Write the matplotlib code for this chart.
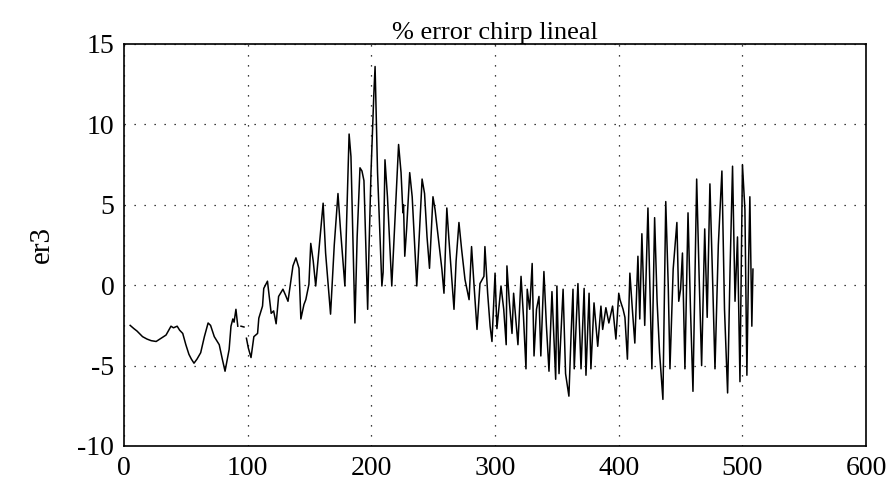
import numpy as np
import matplotlib.pyplot as plt

# muestras (nan = hueco en la traza)
nan = np.nan
t = [5, 8, 10.5, 15, 18.6, 22, 26, 30, 34, 38, 40, 43, 45, 47.5, 50, 52.5,
     54.5, 56.6, 59, 62, 65, 68, 70, 73, 77, 79.5, 81.7, 83.5, 85, 86.5, 88, 89, 90.5, 92,
     93, 94.6, 97, 98, 99, 100.5,
     102.7, 105, 108, 109, 112, 113, 116, 119, 121, 123, 125, 128.5, 130.5, 132.6, 136.6, 139,
     141.5, 143, 145.5, 147, 149.5, 151,
     153, 155, 158, 161, 163, 167, 170, 173, 175, 178.6, 180, 182, 183.5, 186.7, 188.5, 190.8,
     192.4, 194, 197, 198, 199.7, 202,
     203, 205, 208.5, 209.5, 211, 213, 216.5, 219, 222, 224, 225.5, 226, 227, 228.5, 231, 233,
     236.7, 239, 241, 243, 245, 247, 249.8,
     251.5, 254, 257, 258.7, 261, 262.7, 266.8, 268.5, 270.8, 273, 275.7, 279, 281, 283, 285.4,
     287.8, 291, 291.8, 294, 296, 297.5, 300,
     301.5, 304.8, 307, 309, 309.6, 311.5, 313.7, 315, 318.5, 321, 323, 325, 326, 328, 330,
     331.5, 333.5, 335.5, 337, 339.5, 341.5, 343.6, 346, 349, 350,
     351.7, 355, 357, 359.7, 361.5, 363, 364, 367, 369.5, 372, 373.5, 376, 377.5, 380, 383,
     385.6, 387, 389.6, 392, 395, 397.7, 400,
     401, 403.5, 405, 407, 409, 411, 413, 415.5, 417, 418.7, 421, 423.6, 425, 426.8, 429, 431,
     433, 435.7, 438, 440, 441.4, 444, 447, 448.5, 450, 451.5, 453.5, 456, 458, 460, 463, 465,
     467, 469.5, 471.5, 473.7, 476, 477.8, 480.5, 483.4, 485.5, 488, 490, 492, 494, 496, 498,
     500, 502, 503.6, 505, 506, 507.6, 508.5]
er3 = [-2.5, -2.7, -2.85, -3.2, -3.35, -3.45, -3.5, -3.3, -3.1, -2.55, -2.65, -2.55, -2.8, -3.0, -3.7, -4.3,
       -4.6, -4.85, -4.6, -4.2, -3.2, -2.35, -2.5, -3.2, -3.7, -4.6, -5.35, -4.6, -4.0, -2.55, -2.1, -2.3, -1.5, -2.55,
       nan, -2.55, -2.6, nan, -3.3, -3.9,
       -4.5, -3.2, -3.0, -2.05, -1.3, -0.2, 0.25, -1.75, -1.6, -2.4, -0.7, -0.25, -0.6, -1.0, 1.2, 1.7,
       1.05, -2.1, -1.2, -0.9, 0.05, 2.6,
       1.5, -0.05, 2.5, 5.1, 2.0, -1.8, 2.5, 5.7, 3.5, -0.05, 4.0, 9.4, 8.0, -2.35, 3.0, 7.3,
       7.1, 6.5, -1.5, 2.0, 7.0, 11.9,
       13.6, 7.0, -0.05, 0.8, 7.8, 5.5, -0.05, 4.0, 8.75, 7.0, 4.5, 5.0, 1.8, 3.5, 7.0, 5.5,
       -0.05, 3.5, 6.6, 5.7, 3.0, 1.05, 5.5,
       4.7, 3.0, 1.0, -0.5, 4.8, 2.85, -1.5, 1.5, 3.9, 2.2, 0.35, -0.9, 2.4, 0.0, -2.75,
       0.1, 0.55, 2.4, -0.5, -2.55, -3.5, 0.75,
       -2.7, -0.05, -1.5, -3.7, 1.2, -1.0, -3.0, -0.5, -3.7, 0.55, -2.0, -5.2, -0.25, -1.5, 1.35,
       -4.4, -1.5, -0.7, -4.4, 0.85, -2.5, -5.35, -0.4, -5.85, -0.05,
       -5.5, -0.25, -5.5, -6.9, -3.0, -0.25, -5.2, 0.1, -5.2, -0.2, -5.6, -0.5, -5.2, -1.1, -3.8,
       -1.3, -2.75, -1.4, -2.35, -1.3, -3.35, -0.5,
       -0.9, -1.5, -2.0, -4.6, 0.75, -1.5, -3.6, 1.8, -2.1, 3.2, -2.5, 4.8, 0.5, -5.2, 4.2, -1.0,
       -4.2, -7.1, 5.2, 0.0, -5.2, 1.0, 3.9, -1.0, -0.25, 2.0, -5.2, 4.5, -1.5, -6.6, 6.6, 0.5,
       -5.0, 3.5, -2.0, 6.3, 0.0, -5.2, 2.5, 7.1, -1.5, -6.7, 1.0, 7.4, -1.0, 3.0, -6.0,
       7.5, 4.7, -5.6, 1.5, 5.5, -2.55, 1.0]

xticks = [0, 100, 200, 300, 400, 500, 600]
yticks = [-10, -5, 0, 5, 10, 15]

plt.rcParams['font.family'] = ['Liberation Serif', 'DejaVu Serif']
plt.rcParams['axes.unicode_minus'] = False

fig = plt.figure(figsize=(8.92, 4.92), dpi=100)
ax = fig.add_axes([0.139, 0.0935, 0.832, 0.8171])

ax.plot(t, er3, color='black', lw=1.1)

ax.set_xlim(0, 600)
ax.set_ylim(-10, 15)
ax.set_xticks(xticks)
ax.set_yticks(yticks)
ax.tick_params(length=0, labelsize=20, pad=7)
ax.grid(True, color='black', linestyle=(0, (1, 7)), lw=0.9)
for s in ax.spines.values():
    s.set_color('black')
    s.set_linewidth(1.2)

ax.set_title('% error chirp lineal', fontsize=19, pad=1)
ax.set_ylabel('er3', fontsize=21, labelpad=16)

fig.savefig('out.png', dpi=100)
